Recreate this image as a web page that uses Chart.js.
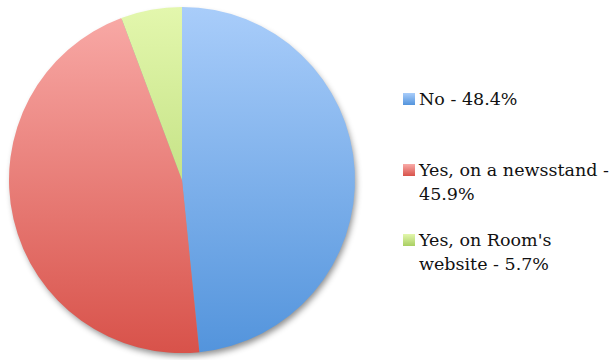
<!DOCTYPE html>
<html lang="en">
  <head>
    <meta charset="UTF-8" />
    <title>Room readers</title>
    <script src="https://cdn.jsdelivr.net/npm/chart.js@4"></script>
    <style>
      html, body { margin: 0; padding: 0; background: #fff; }
      #wrap { position: relative; width: 616px; height: 360px; }
      #pie { position: absolute; left: 0; top: 0; }
      #legend {
        position: absolute; left: 403px; top: 87px; width: 213px;
        font-family: "DejaVu Serif", serif; font-size: 17.5px; line-height: 24.5px;
        color: #111;
      }
      .item { position: relative; padding-left: 16px; margin-bottom: 21px; width: 200px; }
      .item:nth-child(1) { margin-bottom: 46px; }
      .sw { position: absolute; left: 0; top: 6px; width: 12px; height: 12px; }
    </style>
  </head>
  <body>
    <div id="wrap">
      <canvas id="pie" width="364" height="360"></canvas>
      <div id="legend"></div>
    </div>

    <script>
      const labels = ["No", "Yes, on a newsstand", "Yes, on Room's website"];
      const shares = [48.4, 45.9, 5.7];
      // light (top) and dark (bottom) end of each slice's fill
      const topColors = ["#a9cdfa", "#f9aba8", "#e3f7ad"];
      const bottomColors = ["#5394dc", "#d8524a", "#a9cf62"];

      // soft grey shadow under the disc
      const shadowPlugin = {
        id: "pieShadow",
        beforeDatasetsDraw(chart) {
          const arc = chart.getDatasetMeta(0).data[0];
          if (!arc) return;
          const ctx = chart.ctx;
          ctx.save();
          ctx.shadowColor = "rgba(0,0,0,0.45)";
          ctx.shadowBlur = 6;
          ctx.shadowOffsetX = 2;
          ctx.shadowOffsetY = 4;
          ctx.fillStyle = "#999";
          ctx.beginPath();
          ctx.arc(arc.x, arc.y, arc.outerRadius - 1, 0, Math.PI * 2);
          ctx.fill();
          ctx.restore();
        },
      };

      function sliceFill(context) {
        const chart = context.chart;
        const area = chart.chartArea;
        if (!area) return topColors[context.dataIndex];
        const g = chart.ctx.createLinearGradient(0, area.top, 0, area.bottom);
        g.addColorStop(0, topColors[context.dataIndex]);
        g.addColorStop(1, bottomColors[context.dataIndex]);
        return g;
      }

      new Chart(document.getElementById("pie"), {
        type: "pie",
        data: {
          labels: labels,
          datasets: [
            {
              data: shares,
              backgroundColor: sliceFill,
              borderWidth: 0,
            },
          ],
        },
        options: {
          responsive: false,
          animation: false,
          layout: { padding: { left: 9, right: 9, top: 7, bottom: 7 } },
          plugins: { legend: { display: false }, tooltip: { enabled: false } },
        },
        plugins: [shadowPlugin],
      });

      // legend beside the pie
      const legend = document.getElementById("legend");
      labels.forEach((name, i) => {
        const item = document.createElement("div");
        item.className = "item";
        const sw = document.createElement("span");
        sw.className = "sw";
        sw.style.background = `linear-gradient(${topColors[i]}, ${bottomColors[i]})`;
        item.appendChild(sw);
        item.appendChild(document.createTextNode(`${name} - ${shares[i]}%`));
        legend.appendChild(item);
      });
    </script>
  </body>
</html>
